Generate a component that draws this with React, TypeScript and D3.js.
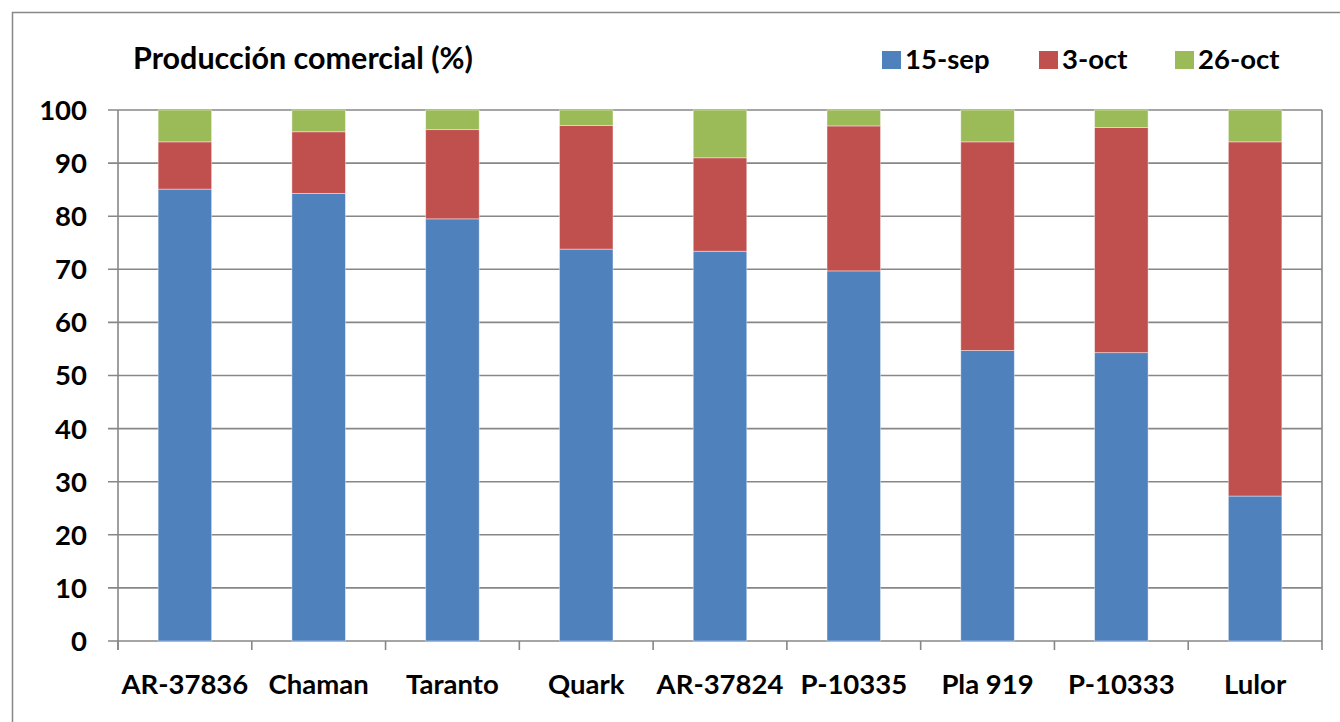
import * as d3 from "d3";

const categories = ["AR-37836", "Chaman", "Taranto", "Quark", "AR-37824", "P-10335", "Pla 919", "P-10333", "Lulor"];
const sep15 = [85.1, 84.3, 79.5, 73.8, 73.4, 69.7, 54.7, 54.3, 27.3];
const oct3 = [8.9, 11.6, 16.8, 23.3, 17.6, 27.3, 39.3, 42.4, 66.7];
const oct26 = [6.0, 4.1, 3.7, 2.9, 9.0, 3.0, 6.0, 3.3, 6.0];
const seriesNames = ["15-sep", "3-oct", "26-oct"];
const colors = ["#4F81BD", "#C0504D", "#9BBB59"];
const yTicks = [0, 10, 20, 30, 40, 50, 60, 70, 80, 90, 100];

const W = 1340;
const H = 722;
const left = 118;
const right = 1322;
const top = 110;
const bottom = 641;
const font = "Lato, 'Open Sans', sans-serif";
const grid = "#878787";

export default function App() {
  const x = d3.scaleBand<string>().domain(categories).range([left, right]).paddingInner(0).paddingOuter(0);
  const y = d3.scaleLinear().domain([0, 100]).range([bottom, top]);
  const barW = x.bandwidth() * 0.4;

  const rows = categories.map((c, i) => ({ cat: c, s0: sep15[i], s1: oct3[i], s2: oct26[i] }));
  const stacked = d3.stack<any>().keys(["s0", "s1", "s2"])(rows);

  const legendX = [882, 1039, 1175];

  return (
    <div style={{ position: "absolute", left: 0, top: 0 }}>
      <svg width={W} height={H} style={{ display: "block", fontFamily: font }}>
        <rect x={0} y={0} width={W} height={H} fill="#fff" />
        <rect x={12.5} y={12.5} width={W + 10} height={H + 10} fill="none" stroke={grid} strokeWidth={1.5} />

        {/* gridlines */}
        {yTicks.map((t) => (
          <line key={t} x1={left - 10} x2={right} y1={y(t)} y2={y(t)} stroke={grid} strokeWidth={1.6} />
        ))}
        <line x1={right} x2={right} y1={top} y2={bottom + 9} stroke={grid} strokeWidth={1.6} />

        {/* bars */}
        {stacked.map((layer, si) => (
          <g key={si} fill={colors[si]}>
            {layer.map((d, i) => (
              <rect
                key={i}
                x={x(categories[i])! + (x.bandwidth() - barW) / 2}
                y={y(d[1])}
                width={barW}
                height={y(d[0]) - y(d[1])}
                stroke="#fff"
                strokeOpacity={0.5}
                strokeWidth={0.8}
              />
            ))}
          </g>
        ))}

        {/* axes */}
        <line x1={left} x2={left} y1={top} y2={bottom + 9} stroke={grid} strokeWidth={1.6} />
        {categories.map((c) => (
          <line key={c} x1={x(c)!} x2={x(c)!} y1={bottom} y2={bottom + 9} stroke={grid} strokeWidth={1.6} />
        ))}

        {yTicks.map((t) => (
          <text key={t} x={87} y={y(t)} dy="0.36em" textAnchor="end" fontSize={27.5} fontWeight={700} fill="#000">
            {t}
          </text>
        ))}
        {categories.map((c) => (
          <text key={c} x={x(c)! + x.bandwidth() / 2} y={694} textAnchor="middle" fontSize={27.5} fontWeight={700} fill="#000">
            {c}
          </text>
        ))}

        <text x={133} y={69} fontSize={30.5} fontWeight={700} fill="#000">
          Producción comercial (%)
        </text>

        {seriesNames.map((n, i) => (
          <g key={n}>
            <rect x={legendX[i]} y={51} width={19} height={18} fill={colors[i]} />
            <text x={legendX[i] + 23} y={69} fontSize={27.5} fontWeight={700} fill="#000">
              {n}
            </text>
          </g>
        ))}
      </svg>
    </div>
  );
}
